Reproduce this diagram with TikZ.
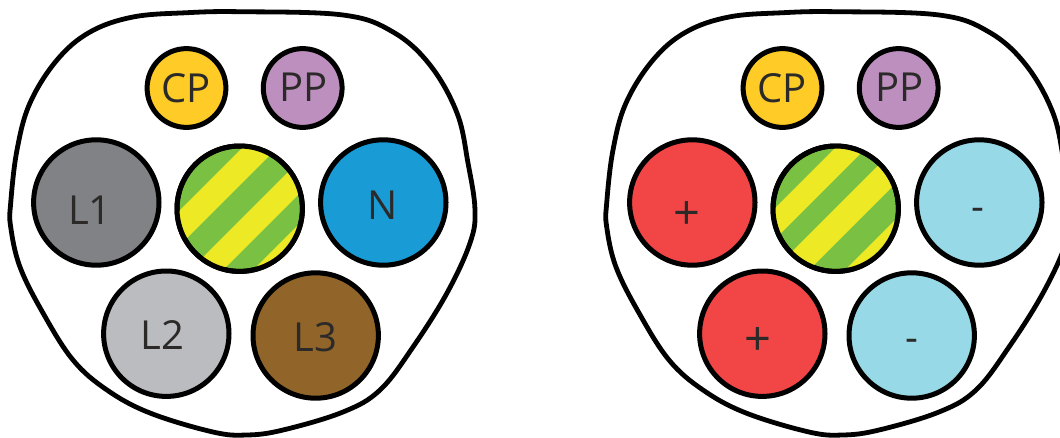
\documentclass[tikz,border=0pt]{standalone}
\usepackage{fontspec}
\setmainfont{Open Sans}
\definecolor{cpc}{HTML}{FFCB27}
\definecolor{ppc}{HTML}{BD8FBF}
\definecolor{lonec}{HTML}{808285}
\definecolor{ltwoc}{HTML}{BBBCBF}
\definecolor{lthreec}{HTML}{916529}
\definecolor{nc}{HTML}{199CD6}
\definecolor{gnd}{HTML}{7AC143}
\definecolor{ylw}{HTML}{EEE925}
\definecolor{redc}{HTML}{F24646}
\definecolor{cyanc}{HTML}{97D9E6}
\definecolor{ink}{HTML}{2B2A29}
\tikzset{
  pinbig/.style={circle,draw=black,line width=5pt,minimum size=125.4pt,inner sep=0pt,outer sep=0pt},
  pinsmall/.style={circle,draw=black,line width=5pt,minimum size=78.8pt,inner sep=0pt,outer sep=0pt},
  lbl/.style={inner sep=0pt,outer sep=0pt,text=ink,font=\fontsize{40}{40}\selectfont},
  sym/.style={inner sep=0pt,outer sep=0pt,text=ink,font=\fontsize{47}{47}\selectfont},
  shell/.style={draw=black,line width=4.8pt,fill=white}
}
\newcommand{\shellpath}{plot[smooth cycle,tension=0.62] coordinates {
 (240,11.7) (343,15) (393,32) (430,65) (457,113) (468,163) (475,210) (470,243)
 (447,293) (413,347) (380,390) (343,412) (283,430) (247,435) (213,432)
 (150,413) (107,390) (73,360) (43,313) (20,267) (10.7,227) (10.7,203)
 (17,150) (30,103) (57,60) (90,32) (133,17) (187,12.7)}}
\newcommand{\gband}[2]{\fill[ylw] (100,#1-100) -- (400,#1-400) -- (400,#2-400) -- (100,#2-100) -- cycle;}
\begin{document}
\begin{tikzpicture}[x=1pt,y=-1pt]
\useasboundingbox (0,0) rectangle (1060,437);
\clip (0,0) rectangle (1060,437);
\fill[white] (0,0) rectangle (1060,437);
% left connector
\begin{scope}
  \draw[shell] \shellpath;
  \node[pinsmall,fill=cpc] (acp) at (186.5,88) {};
  \node[pinsmall,fill=ppc] (app) at (302.7,88) {};
  \node[pinbig,fill=lonec] (al1) at (96.3,202.5) {};
  \node[pinbig,fill=gnd] (agn) at (239.7,208.7) {};
  \begin{scope}
    \clip (239.7,208.7) circle (62.7);
    \gband{390}{425}\gband{460}{493}\gband{523}{700}
  \end{scope}
  \draw[black,line width=5pt] (agn.center) circle (62.7);
  \node[pinbig,fill=nc] (an) at (383.3,202.5) {};
  \node[pinbig,fill=ltwoc] (al2) at (166.3,333.7) {};
  \node[pinbig,fill=lthreec] (al3) at (315.7,335.5) {};
  \node[lbl] at (186.3,88) {CP};
  \node[lbl] at (303.7,87.5) {PP};
  \node[lbl] at (90,210) {L1};
  \node[lbl] at (382.3,205.5) {N};
  \node[lbl] at (162.3,335.5) {L2};
  \node[lbl] at (315.7,337) {L3};
\end{scope}
% right connector
\begin{scope}[shift={(596,0)}]
  \draw[shell] \shellpath;
  \node[pinsmall,fill=cpc] (bcp) at (186.5,88) {};
  \node[pinsmall,fill=ppc] (bpp) at (302.7,88) {};
  \node[pinbig,fill=redc] (bl1) at (96.3,202.5) {};
  \node[pinbig,fill=gnd] (bgn) at (239.7,208.7) {};
  \begin{scope}
    \clip (239.7,208.7) circle (62.7);
    \gband{387}{418}\gband{447.5}{483}\gband{519}{700}
  \end{scope}
  \draw[black,line width=5pt] (bgn.center) circle (62.7);
  \node[pinbig,fill=cyanc] (bn) at (383.3,202.5) {};
  \node[pinbig,fill=redc] (bl2) at (166.3,333.7) {};
  \node[pinbig,fill=cyanc] (bl3) at (315.7,335.5) {};
  \node[lbl] at (186.3,88) {CP};
  \node[lbl] at (303.7,87.5) {PP};
  \node[sym] at (90.7,216) {+};
  \node[sym] at (161.7,342) {+};
  \node[lbl] at (382,214) {-};
  \node[lbl] at (316,345) {-};
\end{scope}
\end{tikzpicture}
\end{document}
